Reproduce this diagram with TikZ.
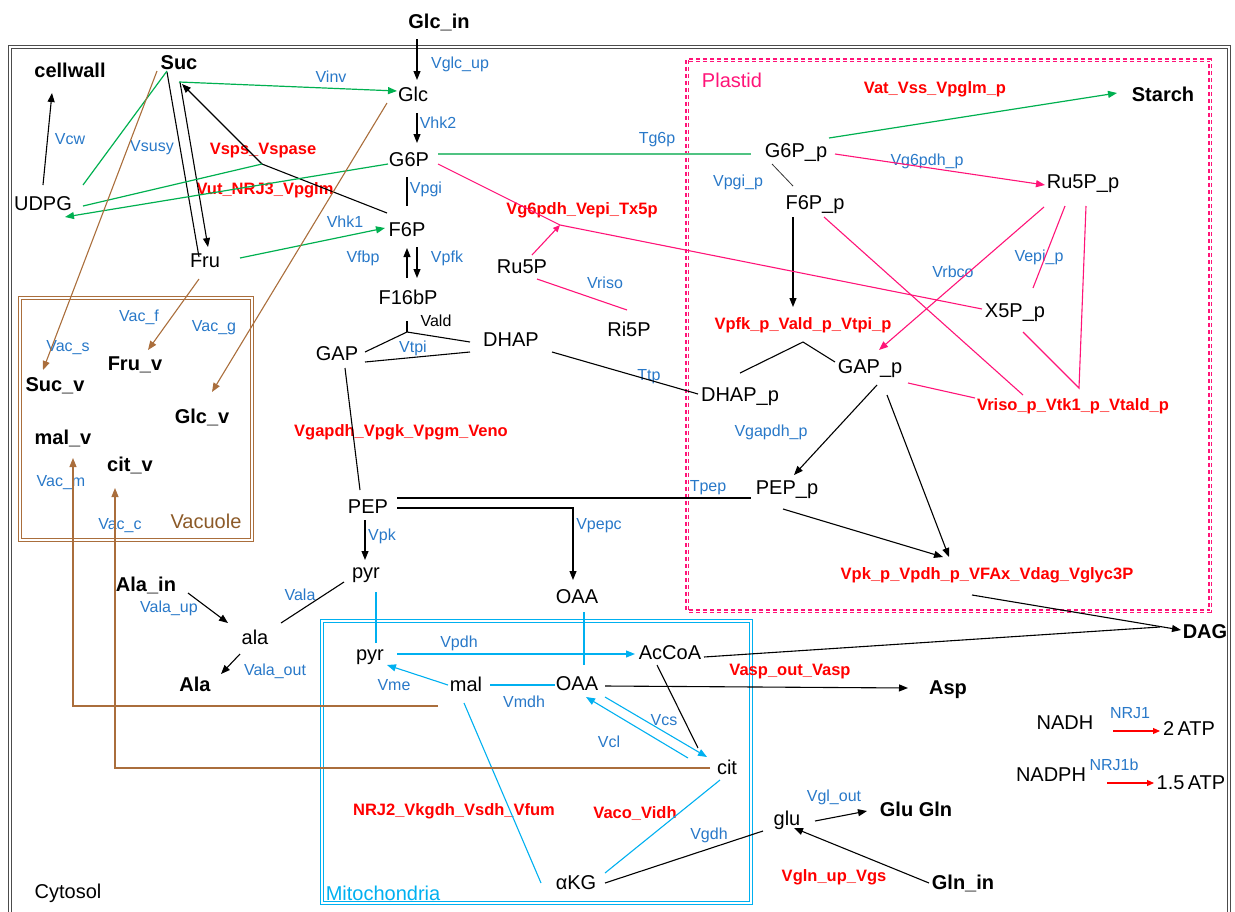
\documentclass[tikz,border=0pt]{standalone}
\usepackage{fontspec}
\setmainfont{Liberation Sans}
\usetikzlibrary{arrows.meta,calc}
\definecolor{lblue}{RGB}{40,120,200}
\definecolor{mred}{RGB}{255,0,0}
\definecolor{mgreen}{RGB}{0,176,80}
\definecolor{tgreen}{RGB}{80,195,130}
\definecolor{mpink}{RGB}{255,20,120}
\definecolor{mcyan}{RGB}{0,176,240}
\definecolor{mbrown}{RGB}{170,110,60}
\definecolor{tbrown}{RGB}{140,90,40}
\tikzset{
 met/.style={inner sep=0pt, font=\fontsize{20}{22}\selectfont},
 bmet/.style={inner sep=0pt, font=\fontsize{20}{22}\selectfont\bfseries},
 lab/.style={inner sep=0pt, text=lblue, font=\fontsize{16}{18}\selectfont},
 rlab/.style={inner sep=0pt, text=mred, font=\fontsize{16.5}{18}\selectfont\bfseries},
 comp/.style={inner sep=0pt, font=\fontsize{20}{22}\selectfont},
 arw/.style={-{Triangle[length=9pt,width=7pt]}},
 sarw/.style={-{Triangle[length=7pt,width=6pt]}},
 bl/.style={line width=1.1pt, black},
 gr/.style={line width=1.2pt, mgreen},
 tg/.style={line width=1.4pt, tgreen},
 pk/.style={line width=1.1pt, mpink},
 cy/.style={line width=1.1pt, mcyan},
 br/.style={line width=1.1pt, mbrown},
 rd/.style={line width=1.1pt, mred},
}
\begin{document}
\begin{tikzpicture}[x=1pt,y=-1pt]
\useasboundingbox (0,0) rectangle (1235,911);
\clip (0,0) rectangle (1235,911);
% compartments
\draw[draw=black!70, double=white, line width=1.2pt, double distance=1.5pt] (10,47) rectangle (1229,940);
\draw[mbrown, double=white, line width=1.4pt, double distance=1.5pt] (20,298) rectangle (252,540);
\draw[mcyan, double=white, line width=1.3pt, double distance=1.5pt] (322,621) rectangle (751,903);
\draw[mpink, double=white, line width=1.3pt, double distance=1pt, dash pattern=on 4pt off 3pt] (687,60) rectangle (1210,611);
\node[comp] (cytosol) at (68,893) {Cytosol};
\node[comp,text=mpink] (plastid) at (732,80) {Plastid};
\node[comp,text=tbrown] (vacuole) at (206,521) {Vacuole};
\node[comp,text=mcyan] (mito) at (383,893) {Mitochondria};
% metabolites
\node[met] (Glc) at (413,94) {Glc};
\node[met] (G6P) at (409,160) {G6P};
\node[met] (F6P) at (407,230) {F6P};
\node[met] (F16bP) at (408,297) {F16bP};
\node[met] (GAP) at (337,354) {GAP};
\node[met] (DHAP) at (511,340) {DHAP};
\node[met] (Ru5P) at (522,267) {Ru5P};
\node[met] (Ri5P) at (629,329) {Ri5P};
\node[met] (UDPG) at (43,204) {UDPG};
\node[met] (Fru) at (205,261) {Fru};
\node[met] (PEP) at (368,507) {PEP};
\node[met] (pyrc) at (366,575) {pyr};
\node[met] (OAAc) at (577,597) {OAA};
\node[met] (ala) at (255,637) {ala};
\node[met] (pyrm) at (370,657) {pyr};
\node[met] (mal) at (466,684) {mal};
\node[met] (OAAm) at (577,684) {OAA};
\node[met] (AcCoA) at (670,653) {AcCoA};
\node[met] (cit) at (727,767) {cit};
\node[met] (aKG) at (576,883) {αKG};
\node[met] (glu) at (787,820) {glu};
\node[met] (NADH) at (1065,723) {NADH};
\node[met] (ATP2) at (1189,729) {2\,ATP};
\node[met] (NADPH) at (1051,775) {NADPH};
\node[met] (ATP15) at (1191,783) {1.5\,ATP};
\node[met] (G6Pp) at (796,153) {G6P\_p};
\node[met] (F6Pp) at (815,205) {F6P\_p};
\node[met] (Ru5Pp) at (1083,184) {Ru5P\_p};
\node[met] (X5Pp) at (1015,313) {X5P\_p};
\node[met] (GAPp) at (870,369) {GAP\_p};
\node[met] (DHAPp) at (740,397) {DHAP\_p};
\node[met] (PEPp) at (787,490) {PEP\_p};
% bold pools
\node[bmet] (Glcin) at (439,22) {Glc\_in};
\node[bmet] (cellwall) at (70,70) {cellwall};
\node[bmet] (Suc) at (179,63) {Suc};
\node[bmet] (Sucv) at (55,386) {Suc\_v};
\node[bmet] (Fruv) at (135,365) {Fru\_v};
\node[bmet] (Glcv) at (202,417) {Glc\_v};
\node[bmet] (malv) at (63,438) {mal\_v};
\node[bmet] (citv) at (130,465) {cit\_v};
\node[bmet] (Alain) at (146,585) {Ala\_in};
\node[bmet] (Ala) at (195,684) {Ala};
\node[bmet] (Asp) at (948,690) {Asp};
\node[bmet] (DAG) at (1205,632) {DAG};
\node[bmet] (GluGln) at (916,809) {Glu Gln};
\node[bmet] (Glnin) at (963,883) {Gln\_in};
\node[bmet] (Starch) at (1163,94) {Starch};
% blue labels
\node[lab] (lVglcup) at (460,64) {Vglc\_up};
\node[lab] (lVinv) at (331,77) {Vinv};
\node[lab] (lVcw) at (70,139) {Vcw};
\node[lab] (lVsusy) at (152,148) {Vsusy};
\node[lab] (lVhk2) at (438,123) {Vhk2};
\node[lab] (lVpgi) at (426,189) {Vpgi};
\node[lab] (lVhk1) at (345,222) {Vhk1};
\node[lab] (lVfbp) at (363,258) {Vfbp};
\node[lab] (lVpfk) at (447,258) {Vpfk};
\node[lab] (lTg6p) at (657,140) {Tg6p};
\node[lab] (lVpgip) at (738,182) {Vpgi\_p};
\node[lab] (lVg6pdhp) at (927,161) {Vg6pdh\_p};
\node[lab] (lVepip) at (1039,257) {Vepi\_p};
\node[lab] (lVrbco) at (953,272) {Vrbco};
\node[lab] (lVriso) at (605,283) {Vriso};
\node[lab] (lVtpi) at (413,348) {Vtpi};
\node[lab] (lTtp) at (649,377) {Ttp};
\node[lab] (lVgapdhp) at (771,432) {Vgapdh\_p};
\node[lab] (lTpep) at (708,488) {Tpep};
\node[lab] (lVpepc) at (599,526) {Vpepc};
\node[lab] (lVpk) at (382,536) {Vpk};
\node[lab] (lVacf) at (139,317) {Vac\_f};
\node[lab] (lVacg) at (214,328) {Vac\_g};
\node[lab] (lVacs) at (68,348) {Vac\_s};
\node[lab] (lVacm) at (61,483) {Vac\_m};
\node[lab] (lVacc) at (120,526) {Vac\_c};
\node[lab] (lVala) at (300,595) {Vala};
\node[lab] (lValaup) at (169,608) {Vala\_up};
\node[lab] (lValaout) at (275,671) {Vala\_out};
\node[lab] (lVpdh) at (459,643) {Vpdh};
\node[lab] (lVme) at (394,685) {Vme};
\node[lab] (lVmdh) at (524,702) {Vmdh};
\node[lab] (lVcs) at (664,720) {Vcs};
\node[lab] (lVcl) at (609,742) {Vcl};
\node[lab] (lVgdh) at (709,835) {Vgdh};
\node[lab] (lVglout) at (834,797) {Vgl\_out};
\node[lab] (lNRJ1) at (1130,713) {NRJ1};
\node[lab] (lNRJ1b) at (1114,765) {NRJ1b};
\node[lab,text=black] (lVald) at (436,321) {Vald};
% red labels
\node[rlab] (rVsps) at (263,151) {Vsps\_Vspase};
\node[rlab] (rVut) at (265,190) {Vut\_NRJ3\_Vpglm};
\node[rlab] (rVg6pdh) at (582,210) {Vg6pdh\_Vepi\_Tx5p};
\node[rlab] (rVat) at (935,89) {Vat\_Vss\_Vpglm\_p};
\node[rlab] (rVpfkp) at (803,325) {Vpfk\_p\_Vald\_p\_Vtpi\_p};
\node[rlab] (rVrisop) at (1073,406) {Vriso\_p\_Vtk1\_p\_Vtald\_p};
\node[rlab] (rVgapdh) at (401,432) {Vgapdh\_Vpgk\_Vpgm\_Veno};
\node[rlab] (rVpkp) at (987,575) {Vpk\_p\_Vpdh\_p\_VFAx\_Vdag\_Vglyc3P};
\node[rlab] (rVasp) at (790,672) {Vasp\_out\_Vasp};
\node[rlab] (rNRJ2) at (454,811) {NRJ2\_Vkgdh\_Vsdh\_Vfum};
\node[rlab] (rVaco) at (635,814) {Vaco\_Vidh};
\node[rlab] (rVgln) at (834,877) {Vgln\_up\_Vgs};
% junctions
\coordinate (jald) at (407,332);
\coordinate (jsps) at (262,164);
\coordinate (jx5) at (560,225);
\coordinate (jvald) at (803,342);
\coordinate (jriso) at (1079,388);
\coordinate (jdag) at (1160,627);
% black connectors
\draw[bl,arw] ($(Glcin)+(-22,17)$) -- ($(Glc)+(4,-14)$);
\draw[bl,arw] ($(Glc)+(4,19)$) -- ($(G6P)+(8,-17)$);
\draw[bl] ($(G6P)+(-2,17)$) -- ($(F6P)+(0,-24)$);
\draw[bl,arw] ($(F6P)+(10,17)$) -- ($(F16bP)+(9,-19)$);
\draw[bl,arw] ($(F16bP)+(-1,-19)$) -- ($(F6P)+(0,18)$);
\draw[bl] ($(F16bP)+(-1,24)$) -- (jald);
\draw[bl] ($(GAP)+(28,-2)$) -- (jald) -- ($(DHAP)+(-41,2)$);
\draw[bl] ($(GAP)+(28,8)$) -- ($(DHAP)+(-41,12)$);
\draw[bl] ($(GAP)+(8,14)$) -- ($(PEP)+(-8,-17)$);
\draw[bl] ($(DHAP)+(41,12)$) -- ($(DHAPp)+(-42,-3)$);
\draw[bl] ($(PEP)+(29,-9)$) -- ($(PEPp)+(-36,8)$);
\draw[bl,arw] ($(PEP)+(29,1)$) -| ($(OAAc)+(-4,-17)$);
\draw[bl,arw] ($(PEP)+(-3,13)$) -- ($(pyrc)+(-1,-15)$);
\draw[bl] ($(Suc)+(-12,9)$) -- ($(Fru)+(-6,-4)$);
\draw[bl,arw] ($(Suc)+(1,19)$) -- ($(Fru)+(3,-14)$);
\draw[bl,arw] ($(F6P)+(-20,-17)$) -- (jsps) -- ($(Suc)+(3,21)$);
\draw[bl,arw] ($(UDPG)+(0,-19)$) -- ($(cellwall)+(-18,23)$);
\draw[bl,arw] ($(Alain)+(42,8)$) -- ($(ala)+(-27,-14)$);
\draw[bl] ($(ala)+(26,-14)$) -- ($(pyrc)+(-22,7)$);
\draw[bl,arw] ($(ala)+(-15,17)$) -- ($(Ala)+(26,-10)$);
\draw[bl,arw] ($(OAAm)+(28,2)$) -- ($(Asp)+(-40,-2)$);
\draw[bl] ($(AcCoA)+(34,4)$) -- (jdag);
\draw[bl,arw] ($(rVpkp)+(-15,20)$) -- ($(DAG)+(-24,-2)$);
\draw[bl,arw] ($(GAPp)+(7,16)$) -- ($(PEPp)+(7,-15)$);
\draw[bl,arw] ($(GAPp)+(17,26)$) -- ($(rVpkp)+(-38,-18)$);
\draw[bl,arw] ($(PEPp)+(-4,19)$) -- ($(rVpkp)+(-44,-18)$);
\draw[bl,arw] ($(F6Pp)+(-22,12)$) -- ($(rVpfkp)+(-10,-18)$);
\draw[bl] ($(DHAPp)+(0,-24)$) -- (jvald) -- ($(GAPp)+(-35,-7)$);
\draw[line width=0.8pt, black!80] ($(G6Pp)+(-24,11)$) -- ($(F6Pp)+(-22,-19)$);
\draw[bl] ($(AcCoA)+(-13,12)$) -- ($(cit)+(-29,-19)$);
\draw[bl] ($(aKG)+(29,0)$) -- ($(glu)+(-24,11)$);
\draw[bl,arw] ($(glu)+(28,1)$) -- ($(GluGln)+(-49,2)$);
\draw[bl,arw] ($(Glnin)+(-34,0)$) -- ($(glu)+(7,8)$);
% green connectors
\draw[gr,arw] ($(Suc)+(0,19)$) -- ($(Glc)+(-16,-3)$);
\draw[gr] ($(UDPG)+(40,-19)$) -- ($(Suc)+(-12,8)$);
\draw[gr] ($(UDPG)+(40,2)$) -- (jsps);
\draw[gr,arw] ($(G6P)+(-21,4)$) -- ($(UDPG)+(22,13)$);
\draw[gr,arw] ($(Fru)+(35,-3)$) -- ($(F6P)+(-22,-2)$);
\draw[tg] ($(G6P)+(29,-6)$) -- ($(G6Pp)+(-45,1)$);
\draw[gr,arw] ($(G6Pp)+(33,-15)$) -- ($(Starch)+(-46,-1)$);
% pink connectors
\draw[pk] ($(G6P)+(29,4)$) -- (jx5) -- ($(X5Pp)+(-33,-4)$);
\draw[pk,sarw] ($(Ru5P)+(10,-12)$) -- (jx5);
\draw[pk] ($(Ru5P)+(15,12)$) -- ($(Ri5P)+(-2,-19)$);
\draw[pk,arw] ($(G6Pp)+(39,1)$) -- ($(Ru5Pp)+(-38,1)$);
\draw[pk,arw] ($(Ru5Pp)+(-39,23)$) -- ($(GAPp)+(9,-19)$);
\draw[pk] ($(Ru5Pp)+(-18,22)$) -- ($(X5Pp)+(18,-25)$);
\draw[pk] ($(Ru5Pp)+(3,22)$) -- (jriso) -- ($(X5Pp)+(8,19)$);
\draw[pk] ($(F6Pp)+(9,12)$) -- ($(rVrisop)+(-50,-11)$);
\draw[pk] ($(GAPp)+(38,14)$) -- ($(rVrisop)+(-98,-8)$);
% cyan connectors
\draw[cy] ($(pyrc)+(10,17)$) -- ($(pyrm)+(6,-14)$);
\draw[cy,arw] ($(pyrm)+(27,-3)$) -- ($(AcCoA)+(-35,1)$);
\draw[cy] ($(OAAc)+(7,15)$) -- ($(OAAm)+(7,-19)$);
\draw[cy,arw] ($(mal)+(-18,1)$) -- ($(pyrm)+(17,8)$);
\draw[cy] ($(mal)+(24,1)$) -- ($(OAAm)+(-22,1)$);
\draw[cy,arw] ($(OAAm)+(28,13)$) -- ($(cit)+(-20,-10)$);
\draw[cy,arw] ($(cit)+(-39,-9)$) -- ($(OAAm)+(9,13)$);
\draw[cy] ($(mal)+(-2,19)$) -- ($(aKG)+(-35,0)$);
\draw[cy] ($(cit)+(-7,13)$) -- ($(aKG)+(29,-10)$);
% brown connectors
\draw[br,arw] ($(Suc)+(-22,8)$) -- ($(Sucv)+(-12,-16)$);
\draw[br,arw] ($(Fru)+(-6,18)$) -- ($(Fruv)+(13,-15)$);
\draw[br,arw] ($(Glc)+(-26,9)$) -- ($(Glcv)+(10,-25)$);
\draw[br,arw] ($(mal)+(-28,22)$) -| ($(malv)+(10,20)$);
\draw[br,arw] ($(cit)+(-17,1)$) -| ($(citv)+(-15,23)$);
% energy
\draw[rd,sarw] ($(NADH)+(48,8)$) -- ($(ATP2)+(-29,2)$);
\draw[rd,sarw] ($(NADPH)+(56,8)$) -- ($(ATP15)+(-37,0)$);
\end{tikzpicture}
\end{document}
